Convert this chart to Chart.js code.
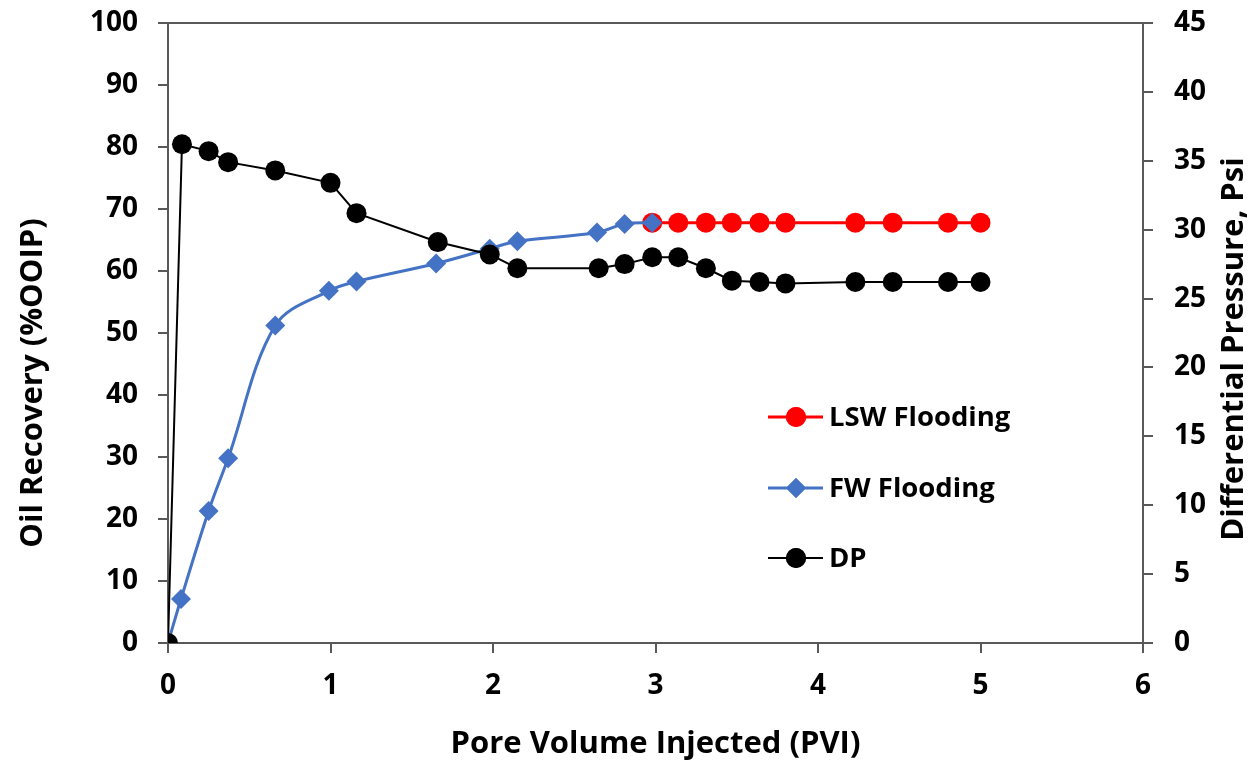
<!DOCTYPE html>
<html>
<head>
<meta charset="utf-8">
<script src="https://cdn.jsdelivr.net/npm/chart.js@4.4.0/dist/chart.umd.min.js"></script>
<style>
html,body{margin:0;padding:0;background:#fff;}
#wrap{width:1253px;height:763px;position:relative;}
</style>
</head>
<body>
<div id="wrap"><canvas id="c" width="1253" height="763"></canvas></div>
<script>
// ---- data ----
const lswX = [2.98, 3.14, 3.31, 3.47, 3.64, 3.80, 4.23, 4.46, 4.80, 5.00];
const lswY = [67.8, 67.8, 67.8, 67.8, 67.8, 67.8, 67.8, 67.8, 67.8, 67.8];

const fwX = [0, 0.08, 0.25, 0.37, 0.66, 0.99, 1.16, 1.65, 1.98, 2.15, 2.64, 2.81, 2.98];
const fwY = [0, 7.1, 21.3, 29.8, 51.2, 56.8, 58.3, 61.2, 63.6, 64.8, 66.2, 67.6, 67.8];

const dpX = [0, 0.086, 0.25, 0.37, 0.66, 1.0, 1.16, 1.66, 1.98, 2.15, 2.65, 2.81, 2.98, 3.14, 3.31, 3.47, 3.64, 3.80, 4.23, 4.46, 4.80, 5.0];
const dpY = [0, 36.2, 35.7, 34.9, 34.3, 33.4, 31.2, 29.1, 28.2, 27.2, 27.2, 27.5, 28.0, 28.0, 27.2, 26.3, 26.2, 26.1, 26.2, 26.2, 26.2, 26.2];

const seriesNames = ['LSW Flooding', 'FW Flooding', 'DP'];
const xTitle = 'Pore Volume Injected (PVI)';
const yTitle = 'Oil Recovery (%OOIP)';
const y2Title = 'Differential Pressure, Psi';

const toPts = (xs, ys) => xs.map((x, i) => ({x: x, y: ys[i]}));

const FONT = '"Open Sans", "DejaVu Sans", sans-serif';
const AXIS = '#595959';
const RED = '#ff0000', BLUE = '#4472c4', BLACK = '#000000';
const TICK_FONT = {family: FONT, size: 28, weight: 'bold'};
const TITLE_FONT = {family: FONT, size: 31, weight: 'bold'};

const legendPlugin = {
  id: 'customLegend',
  afterDatasetsDraw(chart) {
    const ctx = chart.ctx;
    const items = [
      {name: seriesNames[0], color: RED, style: 'circle', r: 10, lw: 3},
      {name: seriesNames[1], color: BLUE, style: 'rectRot', r: 10, lw: 3},
      {name: seriesNames[2], color: BLACK, style: 'circle', r: 10, lw: 2}
    ];
    const ys = [417, 488, 558];
    ctx.save();
    items.forEach((it, i) => {
      const y = ys[i];
      ctx.strokeStyle = it.color;
      ctx.lineWidth = it.lw;
      ctx.beginPath();
      ctx.moveTo(768, y);
      ctx.lineTo(823, y);
      ctx.stroke();
      ctx.fillStyle = it.color;
      Chart.helpers.drawPoint(ctx, {pointStyle: it.style, radius: it.r, borderWidth: 0}, 796, y);
      ctx.fill();
      ctx.fillStyle = '#000';
      ctx.font = 'bold 27.5px ' + FONT;
      ctx.textAlign = 'left';
      ctx.textBaseline = 'middle';
      ctx.fillText(it.name, 829, y + 1);
    });
    ctx.restore();
  }
};

function drawVTitle(ctx, text, x, y) {
  ctx.save();
  ctx.translate(x, y);
  ctx.rotate(-Math.PI / 2);
  ctx.fillStyle = '#000';
  ctx.font = 'bold ' + TITLE_FONT.size + 'px ' + FONT;
  ctx.textAlign = 'center';
  ctx.textBaseline = 'middle';
  ctx.fillText(text, 0, 0);
  ctx.restore();
}

const framePlugin = {
  id: 'frame',
  beforeDatasetsDraw(chart) {
    const a = chart.chartArea;
    const ctx = chart.ctx;
    ctx.save();
    ctx.strokeStyle = AXIS;
    ctx.lineWidth = 2;
    ctx.beginPath();
    ctx.moveTo(a.left, a.top);
    ctx.lineTo(a.right, a.top);
    ctx.stroke();
    ctx.restore();
    drawVTitle(ctx, yTitle, 33, 383);
    drawVTitle(ctx, y2Title, 1234, 349);
  }
};

const noPad = s => { s.paddingTop = 0; s.paddingBottom = 0; s.paddingLeft = 0; s.paddingRight = 0; };

new Chart(document.getElementById('c'), {
  type: 'line',
  data: {
    datasets: [
      {
        label: seriesNames[2], data: toPts(dpX, dpY), yAxisID: 'y2',
        borderColor: BLACK, backgroundColor: BLACK, borderWidth: 2,
        pointStyle: 'circle', pointRadius: 10, pointBorderWidth: 0,
        tension: 0, order: 1
      },
      {
        label: seriesNames[1], data: toPts(fwX, fwY), yAxisID: 'y',
        borderColor: BLUE, backgroundColor: BLUE, borderWidth: 3,
        pointStyle: 'rectRot', pointRadius: 10, pointBorderWidth: 0,
        tension: 0.35, cubicInterpolationMode: 'default', order: 2
      },
      {
        label: seriesNames[0], data: toPts(lswX, lswY), yAxisID: 'y',
        borderColor: RED, backgroundColor: RED, borderWidth: 3,
        pointStyle: 'circle', pointRadius: 10, pointBorderWidth: 0,
        tension: 0, order: 3
      }
    ]
  },
  options: {
    responsive: false,
    animation: false,
    devicePixelRatio: 1,
    layout: {padding: {top: 23, left: 0, right: 0, bottom: 0}},
    plugins: {legend: {display: false}, tooltip: {enabled: false}},
    scales: {
      x: {
        type: 'linear', min: 0, max: 6,
        afterFit: s => { s.height = 120; noPad(s); },
        ticks: {stepSize: 1, color: '#000', padding: 16, font: TICK_FONT},
        grid: {display: true, drawOnChartArea: false, tickLength: 10, color: AXIS, lineWidth: 2},
        border: {display: true, color: AXIS, width: 2},
        title: {display: true, text: xTitle, color: '#000', padding: {top: 0, bottom: 0}, font: TITLE_FONT}
      },
      y: {
        type: 'linear', position: 'left', min: 0, max: 100,
        afterFit: s => { s.width = 168; noPad(s); },
        ticks: {stepSize: 10, color: '#000', padding: 20, font: TICK_FONT},
        grid: {display: true, drawOnChartArea: false, tickLength: 10, color: AXIS, lineWidth: 2},
        border: {display: true, color: AXIS, width: 2},
        title: {display: false}
      },
      y2: {
        type: 'linear', position: 'right', min: 0, max: 45,
        afterFit: s => { s.width = 110; noPad(s); },
        ticks: {stepSize: 5, color: '#000', padding: 21, font: TICK_FONT},
        grid: {display: true, drawOnChartArea: false, tickLength: 10, color: AXIS, lineWidth: 2},
        border: {display: true, color: AXIS, width: 2},
        title: {display: false}
      }
    }
  },
  plugins: [framePlugin, legendPlugin]
});
</script>
</body>
</html>
